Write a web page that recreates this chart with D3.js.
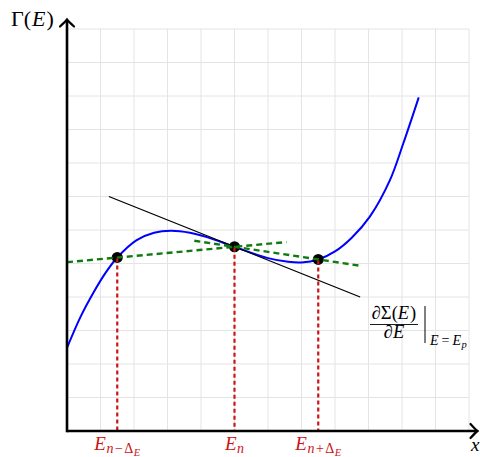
<!DOCTYPE html>
<html>
<head>
<meta charset="utf-8">
<script src="https://cdn.jsdelivr.net/npm/d3@7"></script>
<style>
  html, body { margin: 0; padding: 0; background: #fff; }
  svg { display: block; }
  text { font-family: "Liberation Serif", "DejaVu Serif", serif; }
</style>
</head>
<body>
<svg id="chart" width="480" height="457"></svg>
<script>
// Γ(E) curve, sampled
const curveE     = [0, 0.4, 0.8, 1.15, 1.5, 2.08, 2.6, 3.1, 3.67, 4.2, 5.0, 6.0, 6.6, 7.0, 7.5, 8.0, 8.5, 9.04, 9.64, 10.04, 10.5];
const curveGamma = [2.48, 3.40, 4.15, 4.72, 5.18, 5.70, 5.92, 5.98, 5.92, 5.78, 5.5, 5.16, 5.05, 5.03, 5.12, 5.36, 5.77, 6.40, 7.49, 8.59, 9.96];

// sample energies E_{n-ΔE}, E_n, E_{n+ΔE}
const pointE     = [1.5, 5.0, 7.5];
const pointGamma = [5.18, 5.5, 5.12];
const pointNames = ["minus", "n", "plus"];

// tangent at E_n
const tangentE     = [1.25, 8.75];
const tangentGamma = [7.0, 4.0];

// secants through neighbouring samples
const secantLowE      = [0, 6.55];
const secantLowGamma  = [5.04, 5.64];
const secantHighE     = [3.8, 8.7];
const secantHighGamma = [5.68, 4.94];

const gridTicks = d3.range(0, 13);

const svg = d3.select("#chart");
const x = d3.scaleLinear().domain([0, 12]).range([67, 469]);
const y = d3.scaleLinear().domain([0, 12]).range([431, 29]);

// grid
const grid = svg.append("g").attr("stroke", "#e4e4e4").attr("stroke-width", 1);
grid.selectAll("line.v").data(gridTicks.slice(1)).join("line")
  .attr("x1", d => x(d)).attr("x2", d => x(d))
  .attr("y1", y(0)).attr("y2", y(12));
grid.selectAll("line.h").data(gridTicks.slice(1)).join("line")
  .attr("x1", x(0)).attr("x2", x(12))
  .attr("y1", d => y(d)).attr("y2", d => y(d));

// Γ(E)
svg.append("path")
  .datum(d3.zip(curveE, curveGamma))
  .attr("fill", "none").attr("stroke", "#0000ff").attr("stroke-width", 2)
  .attr("d", d3.line().x(d => x(d[0])).y(d => y(d[1])).curve(d3.curveCatmullRom.alpha(0.5)));

const straight = d3.line().x(d => x(d[0])).y(d => y(d[1]));

// tangent
svg.append("path")
  .datum(d3.zip(tangentE, tangentGamma))
  .attr("fill", "none").attr("stroke", "#000").attr("stroke-width", 1.3)
  .attr("d", straight);

// sample points
svg.append("g").selectAll("circle").data(d3.zip(pointE, pointGamma)).join("circle")
  .attr("cx", d => x(d[0])).attr("cy", d => y(d[1])).attr("r", 5.5)
  .attr("fill", "#000");

// secants
[[secantLowE, secantLowGamma], [secantHighE, secantHighGamma]].forEach(([es, gs]) => {
  svg.append("path")
    .datum(d3.zip(es, gs))
    .attr("fill", "none").attr("stroke", "#107a10").attr("stroke-width", 2.4)
    .attr("stroke-dasharray", "6,4")
    .attr("d", straight);
});

// drop lines to the energy axis
const red = "#cc1414";
svg.append("g").selectAll("line").data(d3.zip(pointE, pointGamma)).join("line")
  .attr("x1", d => x(d[0])).attr("x2", d => x(d[0]))
  .attr("y1", d => y(d[1]) + 1).attr("y2", y(0))
  .attr("stroke", red).attr("stroke-width", 2.2)
  .attr("stroke-dasharray", "4,3");

// axes with arrow tips
const axes = svg.append("g").attr("stroke", "#000").attr("fill", "none");
axes.append("line").attr("x1", x(0)).attr("x2", 476).attr("y1", y(0)).attr("y2", y(0)).attr("stroke-width", 2.6);
axes.append("line").attr("x1", x(0)).attr("x2", x(0)).attr("y1", y(0) + 1.3).attr("y2", 21).attr("stroke-width", 2.6);
const tip = "M-7,-7 Q-2,-1.5 0,0 Q-2,1.5 -7,7";
axes.append("path").attr("d", tip).attr("stroke-width", 2.2).attr("stroke-linecap", "round")
  .attr("transform", `translate(477.5,${y(0)})`);
axes.append("path").attr("d", tip).attr("stroke-width", 2.2).attr("stroke-linecap", "round")
  .attr("transform", `translate(${x(0)},19.5) rotate(-90)`);

// axis labels
const gl = svg.append("text").attr("x", 11).attr("y", 26).attr("font-size", 22).attr("fill", "#000");
gl.append("tspan").text("Γ(");
gl.append("tspan").attr("font-style", "italic").attr("dx", 1).text("E");
gl.append("tspan").attr("dx", 1).text(")");

svg.append("text").attr("x", 471).attr("y", 451).attr("font-size", 19)
  .attr("font-style", "italic").text("x");

// energy labels
pointNames.forEach((name, i) => {
  const t = svg.append("text")
    .attr("x", x(pointE[i])).attr("y", 450)
    .attr("text-anchor", "middle").attr("fill", red).attr("font-size", 19);
  t.append("tspan").attr("font-style", "italic").text("E");
  t.append("tspan").attr("font-size", 14).attr("font-style", "italic").attr("dy", 3).attr("dx", 0.5).text("n");
  if (name !== "n") {
    t.append("tspan").attr("font-size", 14).attr("dx", 1.5).text(name === "minus" ? "−" : "+");
    t.append("tspan").attr("font-size", 14).attr("dx", 1.5).text("Δ");
    t.append("tspan").attr("font-size", 10.5).attr("font-style", "italic").attr("dy", 2.5).attr("dx", 0.5).text("E");
  }
});

// derivative annotation
const fx = 394;
const num = svg.append("text").attr("x", fx).attr("y", 319).attr("text-anchor", "middle").attr("font-size", 18.5);
num.append("tspan").text("∂Σ(");
num.append("tspan").attr("font-style", "italic").text("E");
num.append("tspan").attr("dx", 1).text(")");
svg.append("line").attr("x1", 370).attr("x2", 418).attr("y1", 324.5).attr("y2", 324.5)
  .attr("stroke", "#000").attr("stroke-width", 0.9);
const den = svg.append("text").attr("x", fx).attr("y", 338).attr("text-anchor", "middle").attr("font-size", 18.5);
den.append("tspan").text("∂");
den.append("tspan").attr("font-style", "italic").text("E");
svg.append("line").attr("x1", 425).attr("x2", 425).attr("y1", 306).attr("y2", 343)
  .attr("stroke", "#000").attr("stroke-width", 1);
const sub = svg.append("text").attr("x", 430).attr("y", 345).attr("font-size", 14);
sub.append("tspan").attr("font-style", "italic").text("E");
sub.append("tspan").attr("dx", 3).text("=");
sub.append("tspan").attr("font-style", "italic").attr("dx", 3).text("E");
sub.append("tspan").attr("font-style", "italic").attr("font-size", 10.5).attr("dy", 2.5).attr("dx", 0.5).text("p");
</script>
</body>
</html>
